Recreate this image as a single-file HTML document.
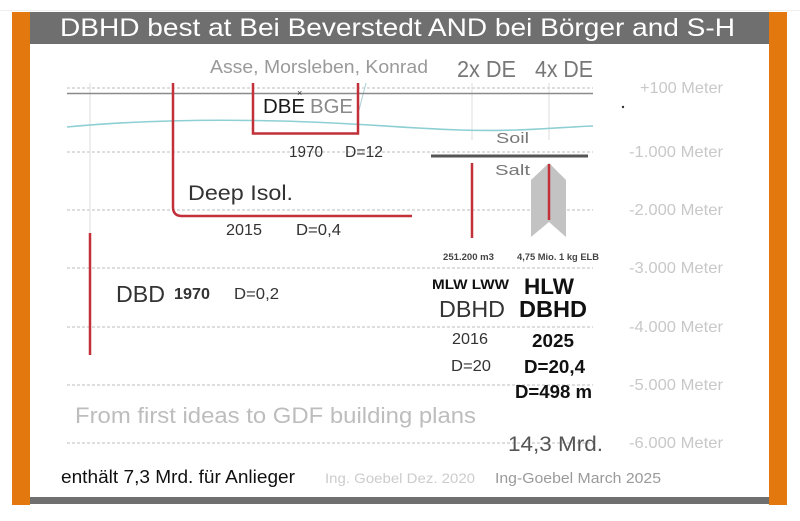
<!DOCTYPE html>
<html><head><meta charset="utf-8"><style>
html,body{margin:0;padding:0;background:#fff;}
svg{display:block;}
text{font-family:"Liberation Sans",Arial,sans-serif;}
</style></head><body>
<svg width="800" height="521" viewBox="0 0 800 521" xmlns="http://www.w3.org/2000/svg">
<rect x="0" y="0" width="800" height="521" fill="#fff"/>
<line x1="0" y1="10.5" x2="800" y2="10.5" stroke="#eeeeee" stroke-width="1"/>
<!-- frame -->
<rect x="12" y="12" width="18" height="493" fill="#E3780F"/>
<rect x="769" y="12" width="18" height="493" fill="#E3780F"/>
<rect x="30" y="12" width="739" height="32" fill="#6f6f6f"/>
<rect x="30" y="497" width="739" height="7" fill="#6f6f6f"/>
<text x="60" y="36" font-size="25" fill="#ffffff" textLength="675" lengthAdjust="spacingAndGlyphs">DBHD best at Bei Beverstedt AND bei Börger and S-H</text>

<!-- dashed grid -->
<g stroke="#bdbdbd" stroke-width="1" stroke-dasharray="3,2">
<line x1="67" y1="88" x2="593" y2="88"/>
<line x1="67" y1="152" x2="593" y2="152"/>
<line x1="67" y1="210" x2="593" y2="210"/>
<line x1="67" y1="268" x2="593" y2="268"/>
<line x1="67" y1="327" x2="593" y2="327"/>
<line x1="67" y1="385" x2="593" y2="385"/>
<line x1="67" y1="443" x2="593" y2="443"/>
</g>
<!-- faint verticals -->
<g stroke="#dddddd" stroke-width="1">
<line x1="90" y1="83" x2="90" y2="233"/>
<line x1="472" y1="83" x2="472" y2="140"/>
<line x1="549" y1="83" x2="549" y2="140"/>
</g>
<line x1="366" y1="83" x2="359" y2="110" stroke="#a9cfd6" stroke-width="1"/>
<!-- solid gray -->
<line x1="67" y1="93.5" x2="593" y2="93.5" stroke="#8a8a8a" stroke-width="1.5"/>
<!-- cyan -->
<path d="M67,127 C130,121 200,119 280,121 S400,128 460,130 S560,127 593,126" fill="none" stroke="#8ecfd3" stroke-width="1.6"/>

<!-- red brackets -->
<g stroke="#c2303a" stroke-width="2.5" fill="none">
<path d="M253,83 V133.5 H358 V83"/>
<path d="M173,83 V207 Q173,216 182,216 H412"/>
<line x1="90" y1="233" x2="90" y2="355"/>
<line x1="472" y1="163" x2="472" y2="238"/>
</g>
<line x1="431" y1="156" x2="588" y2="156" stroke="#555" stroke-width="3"/>
<polygon points="531,180 549,163 566,180 566,237 549,222 531,237" fill="#c3c3c3"/>
<line x1="549" y1="164" x2="549" y2="220" stroke="#c2303a" stroke-width="2.5"/>
<circle cx="623" cy="107" r="1.2" fill="#333"/>

<!-- top labels -->
<text x="210" y="73" font-size="18" fill="#9a9a9a" textLength="218" lengthAdjust="spacingAndGlyphs">Asse, Morsleben, Konrad</text>
<text x="457" y="77" font-size="23" fill="#777" textLength="59" lengthAdjust="spacingAndGlyphs">2x DE</text>
<text x="535" y="77" font-size="23" fill="#777" textLength="58" lengthAdjust="spacingAndGlyphs">4x DE</text>

<!-- meter labels -->
<g font-size="16" fill="#c8c8c8" text-anchor="end">
<text x="723" y="93" textLength="83" lengthAdjust="spacingAndGlyphs">+100 Meter</text>
<text x="723" y="157" textLength="94" lengthAdjust="spacingAndGlyphs">-1.000 Meter</text>
<text x="723" y="215" textLength="94" lengthAdjust="spacingAndGlyphs">-2.000 Meter</text>
<text x="723" y="273" textLength="94" lengthAdjust="spacingAndGlyphs">-3.000 Meter</text>
<text x="723" y="332" textLength="94" lengthAdjust="spacingAndGlyphs">-4.000 Meter</text>
<text x="723" y="390" textLength="94" lengthAdjust="spacingAndGlyphs">-5.000 Meter</text>
<text x="723" y="448" textLength="94" lengthAdjust="spacingAndGlyphs">-6.000 Meter</text>
</g>

<!-- DBE -->
<text x="263" y="113" font-size="20" fill="#1a1a1a" textLength="42" lengthAdjust="spacingAndGlyphs">DBE</text>
<text x="310" y="113" font-size="20" fill="#8a8a8a" textLength="43" lengthAdjust="spacingAndGlyphs">BGE</text>
<text x="297" y="96" font-size="9" fill="#333">×</text>
<text x="289" y="157" font-size="16" fill="#333" textLength="34" lengthAdjust="spacingAndGlyphs">1970</text>
<text x="345" y="157" font-size="16" fill="#333" textLength="38" lengthAdjust="spacingAndGlyphs">D=12</text>

<!-- Deep Isol -->
<text x="188" y="200" font-size="21" fill="#333" textLength="105" lengthAdjust="spacingAndGlyphs">Deep Isol.</text>
<text x="226" y="235" font-size="16" fill="#333" textLength="36" lengthAdjust="spacingAndGlyphs">2015</text>
<text x="296" y="235" font-size="16" fill="#333" textLength="45" lengthAdjust="spacingAndGlyphs">D=0,4</text>

<!-- DBD -->
<text x="116" y="302" font-size="23" fill="#333" textLength="49" lengthAdjust="spacingAndGlyphs">DBD</text>
<text x="174" y="299" font-size="16" font-weight="bold" fill="#333" textLength="36" lengthAdjust="spacingAndGlyphs">1970</text>
<text x="234" y="299" font-size="16" fill="#333" textLength="45" lengthAdjust="spacingAndGlyphs">D=0,2</text>

<!-- salt -->
<text x="496" y="143" font-size="15" fill="#777" textLength="33" lengthAdjust="spacingAndGlyphs">Soil</text>
<text x="495" y="175" font-size="15" fill="#777" textLength="35" lengthAdjust="spacingAndGlyphs">Salt</text>
<text x="443" y="260" font-size="9" font-weight="bold" fill="#444" textLength="51" lengthAdjust="spacingAndGlyphs">251.200 m3</text>
<text x="517" y="260" font-size="9" font-weight="bold" fill="#444" textLength="82" lengthAdjust="spacingAndGlyphs">4,75 Mio. 1 kg ELB</text>

<!-- DBHD block -->
<text x="432" y="289" font-size="14" font-weight="bold" fill="#111" textLength="77" lengthAdjust="spacingAndGlyphs">MLW LWW</text>
<text x="524" y="294" font-size="22" font-weight="bold" fill="#111" textLength="50" lengthAdjust="spacingAndGlyphs">HLW</text>
<text x="439" y="317" font-size="23" fill="#333" textLength="66" lengthAdjust="spacingAndGlyphs">DBHD</text>
<text x="519" y="317" font-size="23" font-weight="bold" fill="#111" textLength="68" lengthAdjust="spacingAndGlyphs">DBHD</text>
<text x="452" y="344" font-size="16" fill="#333" textLength="36" lengthAdjust="spacingAndGlyphs">2016</text>
<text x="532" y="347" font-size="18" font-weight="bold" fill="#111" textLength="42" lengthAdjust="spacingAndGlyphs">2025</text>
<text x="451" y="371" font-size="16" fill="#333" textLength="40" lengthAdjust="spacingAndGlyphs">D=20</text>
<text x="524" y="373" font-size="18" font-weight="bold" fill="#111" textLength="61" lengthAdjust="spacingAndGlyphs">D=20,4</text>
<text x="515" y="398" font-size="18" font-weight="bold" fill="#111" textLength="77" lengthAdjust="spacingAndGlyphs">D=498 m</text>

<!-- bottom -->
<text x="75" y="423" font-size="22" fill="#bdbdbd" textLength="401" lengthAdjust="spacingAndGlyphs">From first ideas to GDF building plans</text>
<text x="508" y="451" font-size="21" fill="#555" textLength="95" lengthAdjust="spacingAndGlyphs">14,3 Mrd.</text>
<text x="61" y="483" font-size="18" fill="#111" textLength="234" lengthAdjust="spacingAndGlyphs">enthält 7,3 Mrd. für Anlieger</text>
<text x="325" y="483" font-size="14" fill="#cccccc" textLength="150" lengthAdjust="spacingAndGlyphs">Ing. Goebel Dez. 2020</text>
<text x="495" y="483" font-size="15" fill="#9a9a9a" textLength="166" lengthAdjust="spacingAndGlyphs">Ing-Goebel March 2025</text>
</svg>
</body></html>
